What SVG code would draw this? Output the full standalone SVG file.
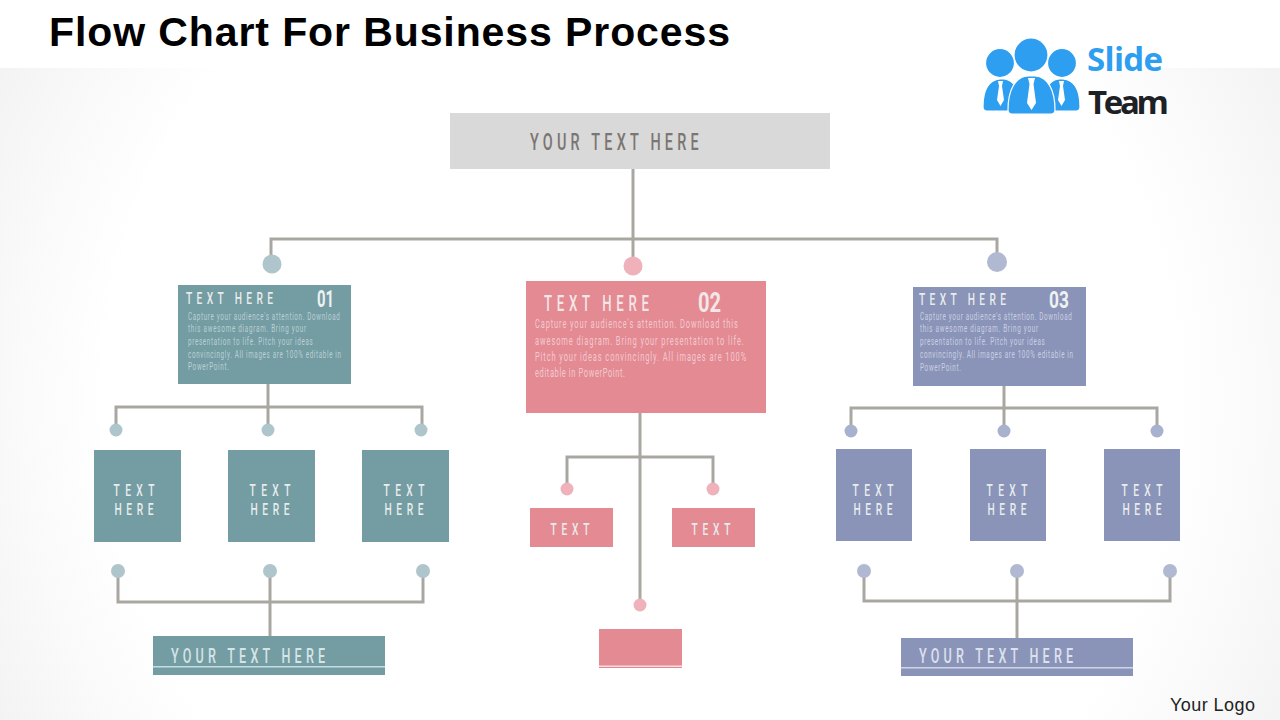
<svg xmlns="http://www.w3.org/2000/svg" width="1280" height="720" viewBox="0 0 1280 720">
<style>
text{font-family:"Roboto","Liberation Sans",sans-serif}
.ln{fill:none;stroke:#a9a7a1;stroke-width:3}
.lbl{fill:#e8ecec;font-size:17px;text-anchor:middle;font-weight:500}
.hd{fill:#e8ecec;font-size:17px;font-weight:500}
.num{fill:#eef1f1;font-size:24px;font-weight:700}
.body{fill:#b9d0d3;font-size:10.500px}
.bodyb{fill:#c9cfe2}
.bodyp{fill:#f3c9ce;font-size:12.500px}
.teal{fill:#749ca3}.pink{fill:#e38a93}.blue{fill:#8a94b8}
.dt{fill:#aec6cb}.dp{fill:#efb1ba}.db{fill:#b0b8d2}.db2{fill:#a8b2ce}
</style>
<defs>
<radialGradient id="bg" gradientUnits="userSpaceOnUse" cx="640" cy="400" r="720">
<stop offset="0" stop-color="#ffffff"/><stop offset="0.74" stop-color="#ffffff"/><stop offset="0.86" stop-color="#fafafa"/><stop offset="1" stop-color="#f3f3f3"/>
</radialGradient>
</defs>
<rect width="1280" height="720" fill="url(#bg)"/>
<rect width="1280" height="68" fill="#ffffff"/>
<text x="49" y="46" font-size="41" font-weight="700" fill="#000" textLength="681" style="font-family:'Liberation Sans',sans-serif">Flow Chart For Business Process</text>

<g id="logo">
<g fill="#2e9ef0" stroke="#ffffff" stroke-width="1.200">
<circle cx="1000" cy="63" r="14.500"/><circle cx="1062" cy="63" r="14.500"/>
<path d="M983 107C983 90 989 80 1000 79H1004C1014 80 1020 90 1020 111H987Q983 111 983 107Z"/>
<path d="M1080 107C1080 90 1074 80 1063 79H1059C1049 80 1043 90 1043 111H1076Q1080 111 1080 107Z"/>
<circle cx="1031" cy="55" r="17"/>
<path d="M1008 110C1008 90 1015 77 1028 76H1035C1048 77 1055 90 1055 110Q1055 114 1051 114H1012Q1008 114 1008 110Z"/>
</g>
<g fill="#ffffff">
<path d="M1028 78H1035L1033.500 84L1036 103L1031.500 110L1027 103L1029.500 84Z"/>
<path d="M998 81H1003L1002 86L1004 100L1000.500 106L997 100L999 86Z"/>
<path d="M1059 81H1064L1063 86L1065 100L1061.500 106L1058 100L1060 86Z"/>
</g>
<text x="1087" y="71" font-size="33" font-weight="700" fill="#2e9ef0" textLength="76" style="font-family:'Open Sans',sans-serif">Slide</text>
<text x="1088" y="114" font-size="33" font-weight="700" fill="#1d2126" textLength="81" style="font-family:'Open Sans',sans-serif">Team</text>
</g>

<g id="connectors">
<path class="ln" d="M633 168V260M271 262V239H997V256"/>
<path class="ln" d="M268 384V407M116 428V407H422V428M268 407V428"/>
<path class="ln" d="M640 413V600M567 486V457H713V486"/>
<path class="ln" d="M1004 385V408M851 428V408H1157V428M1004 408V428"/>
<path class="ln" d="M118 574V602H423V574M270 574V636"/>
<path class="ln" d="M864 574V601H1170V574M1017 574V638"/>
</g>

<g id="node-top"><rect x="450" y="113" width="380" height="56" fill="#d9d9d9"/>
<text transform="translate(530,150) scale(.6,1)" font-size="24" font-weight="500" fill="#7a7672" textLength="281">YOUR TEXT HERE</text></g>

<g id="dots">
<circle class="dt" cx="272" cy="264" r="9.500"/><circle class="dp" cx="633" cy="266" r="9.500"/><circle class="db" cx="997" cy="262" r="10"/>
<circle class="dt" cx="116" cy="430" r="6.500"/><circle class="dt" cx="268" cy="430" r="6.500"/><circle class="dt" cx="421" cy="430" r="6.500"/>
<circle class="db2" cx="851" cy="431" r="6.500"/><circle class="db2" cx="1004" cy="431" r="6.500"/><circle class="db2" cx="1157" cy="431" r="6.500"/>
<circle class="dt" cx="118" cy="571" r="7"/><circle class="dt" cx="270" cy="571" r="7"/><circle class="dt" cx="423" cy="571" r="7"/>
<circle class="db" cx="864" cy="571" r="7"/><circle class="db" cx="1017" cy="571" r="7"/><circle class="db" cx="1170" cy="571" r="7"/>
<circle class="dp" cx="567" cy="489" r="6.500"/><circle class="dp" cx="713" cy="489" r="6.500"/><circle class="dp" cx="640" cy="605" r="6.500"/>
</g>

<g id="node-01"><rect class="teal" x="178" y="285" width="173" height="99"/>
<text class="hd" transform="translate(186,304) scale(.6,1)" textLength="145">TEXT HERE</text>
<text class="num" transform="translate(317,307) scale(.62,1)">01</text>
<text class="body" transform="translate(188,320) scale(.6,1)" textLength="253">Capture your audience's attention. Download</text>
<text class="body" transform="translate(188,332) scale(.6,1)" textLength="197">this awesome diagram. Bring your</text>
<text class="body" transform="translate(188,345) scale(.6,1)" textLength="208">presentation to life. Pitch your ideas</text>
<text class="body" transform="translate(188,358) scale(.6,1)" textLength="255">convincingly. All images are 100% editable in</text>
<text class="body" transform="translate(188,370) scale(.6,1)" textLength="68">PowerPoint.</text></g>

<g id="node-02"><rect class="pink" x="526" y="281" width="240" height="132"/>
<text transform="translate(544,311) scale(.6,1)" font-size="22" font-weight="500" fill="#f3e6e6" textLength="175">TEXT HERE</text>
<text transform="translate(698,312) scale(.72,1)" font-size="28" font-weight="700" fill="#f3e6e6">02</text>
<text class="bodyp" transform="translate(535,328) scale(.6,1)" textLength="338">Capture your audience's attention. Download this</text>
<text class="bodyp" transform="translate(535,345) scale(.6,1)" textLength="348">awesome diagram. Bring your presentation to life.</text>
<text class="bodyp" transform="translate(535,361) scale(.6,1)" textLength="352">Pitch your ideas convincingly. All images are 100%</text>
<text class="bodyp" transform="translate(535,377) scale(.6,1)" textLength="150">editable in PowerPoint.</text></g>

<g id="node-03"><rect class="blue" x="913" y="287" width="173" height="99"/>
<text class="hd" transform="translate(919,305) scale(.6,1)" textLength="145">TEXT HERE</text>
<text class="num" transform="translate(1049,308) scale(.72,1)">03</text>
<text class="body bodyb" transform="translate(920,320) scale(.6,1)" textLength="253">Capture your audience's attention. Download</text>
<text class="body bodyb" transform="translate(920,332) scale(.6,1)" textLength="197">this awesome diagram. Bring your</text>
<text class="body bodyb" transform="translate(920,345) scale(.6,1)" textLength="208">presentation to life. Pitch your ideas</text>
<text class="body bodyb" transform="translate(920,358) scale(.6,1)" textLength="255">convincingly. All images are 100% editable in</text>
<text class="body bodyb" transform="translate(920,371) scale(.6,1)" textLength="68">PowerPoint.</text></g>

<g id="node-t1"><rect class="teal" x="94" y="450" width="87" height="92"/><text class="lbl" transform="translate(134,496) scale(.6,1)" textLength="68">TEXT</text><text class="lbl" transform="translate(134,515) scale(.6,1)" textLength="65">HERE</text></g>
<g id="node-t2"><rect class="teal" x="228" y="450" width="87" height="92"/><text class="lbl" transform="translate(270,496) scale(.6,1)" textLength="68">TEXT</text><text class="lbl" transform="translate(270,515) scale(.6,1)" textLength="65">HERE</text></g>
<g id="node-t3"><rect class="teal" x="362" y="450" width="87" height="92"/><text class="lbl" transform="translate(404,496) scale(.6,1)" textLength="68">TEXT</text><text class="lbl" transform="translate(404,515) scale(.6,1)" textLength="65">HERE</text></g>
<g id="node-b1"><rect class="blue" x="836" y="449" width="76" height="92"/><text class="lbl" transform="translate(873,496) scale(.6,1)" textLength="68">TEXT</text><text class="lbl" transform="translate(873,515) scale(.6,1)" textLength="65">HERE</text></g>
<g id="node-b2"><rect class="blue" x="970" y="449" width="76" height="92"/><text class="lbl" transform="translate(1007,496) scale(.6,1)" textLength="68">TEXT</text><text class="lbl" transform="translate(1007,515) scale(.6,1)" textLength="65">HERE</text></g>
<g id="node-b3"><rect class="blue" x="1104" y="449" width="76" height="92"/><text class="lbl" transform="translate(1142,496) scale(.6,1)" textLength="68">TEXT</text><text class="lbl" transform="translate(1142,515) scale(.6,1)" textLength="65">HERE</text></g>
<g id="node-p1"><rect class="pink" x="530" y="508" width="83" height="39"/><text class="lbl" transform="translate(570,535) scale(.6,1)" textLength="65">TEXT</text></g>
<g id="node-p2"><rect class="pink" x="672" y="508" width="83" height="39"/><text class="lbl" transform="translate(711,535) scale(.6,1)" textLength="65">TEXT</text></g>

<g id="node-tbar"><rect class="teal" x="153" y="636" width="232" height="39"/><rect x="153" y="666" width="232" height="1.500" fill="#c4dde0"/>
<text transform="translate(171,663) scale(.6,1)" font-size="21" font-weight="500" fill="#d6e4e6" textLength="257">YOUR TEXT HERE</text></g>
<g id="node-pbar"><rect class="pink" x="599" y="629" width="83" height="39"/><rect x="599" y="665.500" width="83" height="1.500" fill="#f7dde0"/></g>
<g id="node-bbar"><rect class="blue" x="901" y="638" width="232" height="38"/><rect x="901" y="667" width="232" height="1.500" fill="#d0d5e6"/>
<text transform="translate(919,663) scale(.6,1)" font-size="21" font-weight="500" fill="#dde1ee" textLength="257">YOUR TEXT HERE</text></g>

<text x="1170" y="711" font-size="18" fill="#222" textLength="85" style="font-family:'Liberation Sans',sans-serif">Your Logo</text>
</svg>
